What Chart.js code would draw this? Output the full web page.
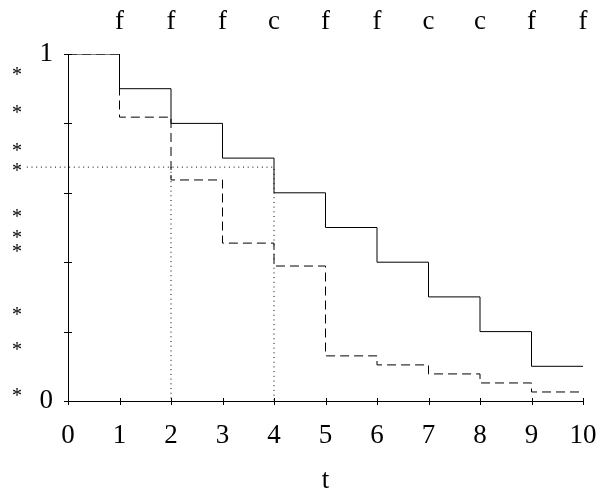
<!DOCTYPE html>
<html lang="en">
<head>
    <meta charset="UTF-8">
    <title>Survival steps</title>
    <script src="https://cdn.jsdelivr.net/npm/chart.js"></script>
    <style>
        body { margin: 0; background: #fff; }
        .wrap { position: relative; width: 601px; height: 491px; }
    </style>
</head>
<body>
    <div class="wrap"><canvas id="stepChart"></canvas></div>

    <script>
        // step values held on [t, t+1)
        const times = [0, 1, 2, 3, 4, 5, 6, 7, 8, 9, 10];
        const solidValues = [1, 0.9, 0.8, 0.7, 0.6, 0.5, 0.4, 0.3, 0.2, 0.1];
        const dashedValues = [1, 0.818, 0.637, 0.455, 0.389, 0.13, 0.104, 0.078, 0.052, 0.026];
        const events = ['f', 'f', 'f', 'c', 'f', 'f', 'c', 'c', 'f', 'f'];
        const starValues = [0.951, 0.841, 0.732, 0.674, 0.542, 0.481, 0.441, 0.259, 0.158, 0.026];
        const guideLevel = 0.674;
        const guideTimes = [2, 4];
        const yTicks = [0, 0.2, 0.4, 0.6, 0.8, 1];

        const serif = 'Liberation Serif';

        function stepPoints(values) {
            const pts = values.map((v, i) => ({ x: times[i], y: v }));
            pts.push({ x: times[times.length - 1], y: values[values.length - 1] });
            return pts;
        }

        const guidePoints = [
            { x: -0.8, y: guideLevel }, { x: guideTimes[1], y: guideLevel }, { x: guideTimes[1], y: 0 },
            { x: guideTimes[1], y: null },
            { x: guideTimes[0], y: guideLevel }, { x: guideTimes[0], y: 0 }
        ];

        // small ticks crossing the axes, event letters on top, stars on the left
        const extras = {
            id: 'extras',
            afterDraw(chart) {
                const ctx = chart.ctx;
                const xs = chart.scales.x, ys = chart.scales.y;
                const x0 = xs.getPixelForValue(0), y0 = ys.getPixelForValue(0);
                ctx.save();
                ctx.strokeStyle = '#000';
                ctx.lineWidth = 1;
                ctx.beginPath();
                times.forEach(t => {
                    const px = Math.round(xs.getPixelForValue(t)) + 0.5;
                    ctx.moveTo(px, y0 - 3);
                    ctx.lineTo(px, y0 + 4);
                });
                yTicks.forEach(v => {
                    const py = Math.round(ys.getPixelForValue(v)) + 0.5;
                    ctx.moveTo(x0 - 4, py);
                    ctx.lineTo(x0 + 4, py);
                });
                ctx.stroke();

                ctx.fillStyle = '#000';
                ctx.font = '27px "' + serif + '"';
                ctx.textAlign = 'center';
                ctx.textBaseline = 'alphabetic';
                events.forEach((e, i) => {
                    ctx.fillText(e, xs.getPixelForValue(i + 1), 29);
                });

                ctx.font = '20px "' + serif + '"';
                const m = ctx.measureText('*');
                const off = (m.actualBoundingBoxAscent - m.actualBoundingBoxDescent) / 2;
                starValues.forEach(v => {
                    ctx.fillText('*', 17, ys.getPixelForValue(v) + off);
                });
                ctx.restore();
            }
        };

        function createStepChart() {
            const ctx = document.getElementById('stepChart').getContext('2d');
            new Chart(ctx, {
                type: 'line',
                data: {
                    datasets: [{
                        label: 'guide',
                        data: guidePoints,
                        borderColor: '#000',
                        borderWidth: 1,
                        borderDash: [1, 3.7],
                        pointRadius: 0,
                        spanGaps: false,
                        clip: false
                    }, {
                        label: 'dashed',
                        data: stepPoints(dashedValues),
                        stepped: 'before',
                        borderColor: '#000',
                        borderWidth: 1,
                        borderDash: [9, 5],
                        pointRadius: 0
                    }, {
                        label: 'solid',
                        data: stepPoints(solidValues),
                        stepped: 'before',
                        borderColor: '#000',
                        borderWidth: 1,
                        pointRadius: 0
                    }]
                },
                options: {
                    responsive: true,
                    maintainAspectRatio: false,
                    animation: false,
                    layout: { padding: { top: 54, right: 18, left: 0, bottom: 0 } },
                    plugins: { legend: { display: false }, tooltip: { enabled: false } },
                    scales: {
                        x: {
                            type: 'linear',
                            min: 0,
                            max: 10,
                            afterFit: s => { s.height = 90; s.paddingLeft = 0; s.paddingRight = 0; },
                            grid: { display: false },
                            border: { display: true, color: '#000', width: 1 },
                            ticks: {
                                stepSize: 1,
                                color: '#000',
                                padding: 11,
                                font: { family: serif, size: 27 }
                            },
                            title: {
                                display: true,
                                text: 't',
                                color: '#000',
                                padding: { top: 0, bottom: 0 },
                                font: { family: serif, size: 27, lineHeight: 0.75 }
                            }
                        },
                        y: {
                            min: 0,
                            max: 1,
                            afterFit: s => { s.width = 68; s.paddingTop = 0; s.paddingBottom = 0; },
                            grid: { display: false },
                            border: { display: true, color: '#000', width: 1 },
                            ticks: {
                                stepSize: 0.2,
                                color: '#000',
                                padding: 7,
                                font: { family: serif, size: 27 },
                                callback: v => (v === 0 || v === 1) ? String(v) : ''
                            }
                        }
                    }
                },
                plugins: [extras]
            });
        }

        createStepChart();
    </script>
</body>
</html>
